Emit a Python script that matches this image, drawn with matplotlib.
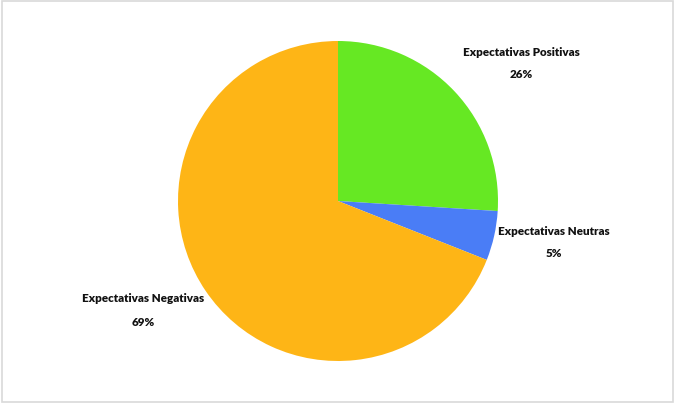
import matplotlib.pyplot as plt
from matplotlib.patches import Rectangle

categories = ['Expectativas Positivas', 'Expectativas Neutras', 'Expectativas Negativas']
values = [26, 5, 69]
colors = ['#66E823', '#4A7DF6', '#FEB516']

fig = plt.figure(figsize=(6.8, 4.12), dpi=100)
fig.patches.append(Rectangle((2 / 680, 1 - 402 / 412), 671 / 680, 401 / 412,
                             transform=fig.transFigure, fill=False,
                             edgecolor='#d9d9d9', linewidth=1.2))

# pie area
ax = fig.add_axes([(338 - 160) / 680, (412 - 361) / 412, 320 / 680, 320 / 412])
ax.pie(values, colors=colors, startangle=90, counterclock=False,
       wedgeprops=dict(linewidth=0))
ax.set_xlim(-1, 1)
ax.set_ylim(-1, 1)
ax.set_aspect('equal')

# label positions in pie units
label_pos = [(1.145, 0.93, 0.79), (1.35, -0.19, -0.33), (-1.22, -0.61, -0.76)]
font = dict(family=['Lato', 'DejaVu Sans'], fontweight='heavy', fontsize=8.4,
            color='#111111', ha='center', va='center')
for cat, v, (x, y1, y2) in zip(categories, values, label_pos):
    ax.text(x, y1, cat, **font)
    ax.text(x, y2, f'{v}%', **font)

plt.savefig('out.png', dpi=100)
